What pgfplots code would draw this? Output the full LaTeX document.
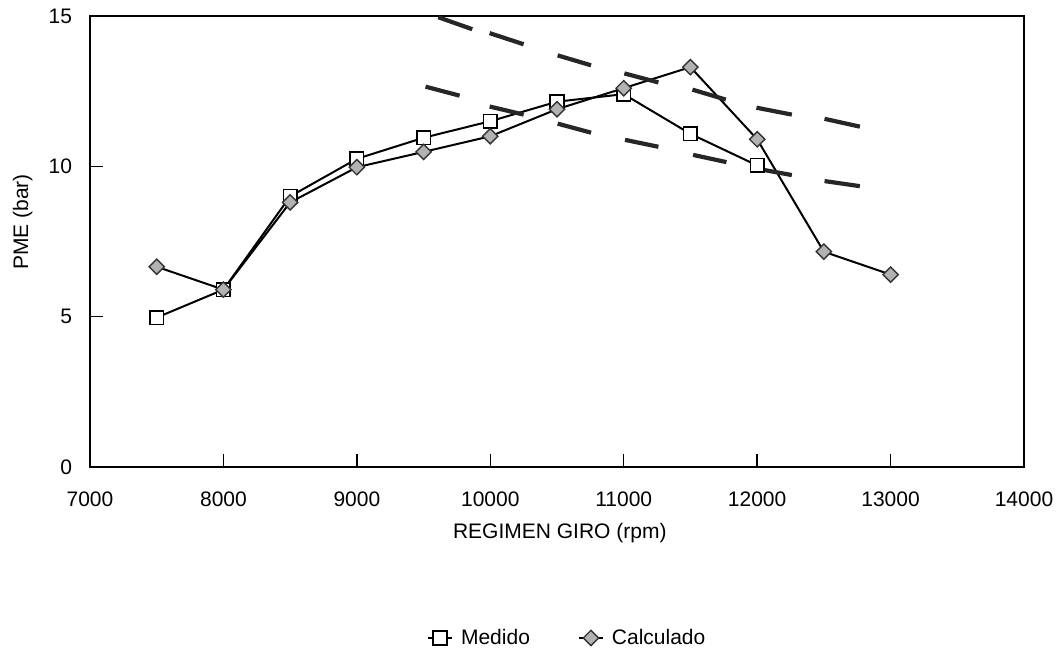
\documentclass[border=0pt]{standalone}
\usepackage{pgfplots}
\pgfplotsset{compat=1.18}
\usepackage{fontspec}
\setmainfont{Liberation Sans}
\begin{document}
\begin{tikzpicture}[x=1pt,y=1pt]
\begin{axis}[
  scale only axis,
  width=467pt, height=225.5pt,
  xmin=7000, xmax=14000, ymin=0, ymax=15,
  xtick={7000,8000,...,14000},
  ytick={0,5,10,15},
  scaled x ticks=false,
  tick pos=left,
  tick align=inside,
  major tick length=6.5pt,
  tick style={black, line width=0.7pt},
  axis line style={line width=0.9pt},
  /pgf/number format/assume math mode=true,
  /pgf/number format/1000 sep={},
  ticklabel style={font=\fontsize{10.5}{12}\selectfont},
  xticklabel style={yshift=-8.7pt},
  yticklabel style={xshift=-5.5pt},
  label style={font=\fontsize{10.5}{12}\selectfont},
  xlabel={REGIMEN GIRO (rpm)},
  ylabel={PME (bar)},
  xlabel style={at={(axis description cs:0.503,-0.146)}, anchor=center},
  ylabel style={at={(axis description cs:-0.072,0.543)}, anchor=center},
  clip=true,
  unbounded coords=jump,
  legend columns=2,
  legend style={draw=none, fill=none, font=\fontsize{10.5}{12}\selectfont,
    at={(0.512,-0.379)}, anchor=center,
    /tikz/every odd column/.append style={column sep=2pt},
    /tikz/every even column/.append style={column sep=22pt}},
  legend image code/.code={
    \draw[#1, mark repeat=2, mark phase=2] plot coordinates {(0pt,0pt) (6pt,0pt) (12pt,0pt)};
  },
]
\addplot[black, line width=1pt, mark=square*, mark size=3.4pt,
  mark options={fill=white, draw=black, line width=0.8pt}]
  coordinates {(7500,4.97) (8000,5.9) (8500,9.0) (9000,10.25) (9500,10.95)
    (10000,11.5) (10500,12.15) (11000,12.4) (11500,11.08) (12000,10.03)};
\addlegendentry{Medido}
\addplot[black, line width=1pt, mark=square*, mark size=2.7pt,
  mark options={rotate=45, fill=gray!60, draw=black!80, line width=0.7pt}]
  coordinates {(7500,6.66) (8000,5.9) (8500,8.8) (9000,9.97) (9500,10.48)
    (10000,11.0) (10500,11.9) (11000,12.6) (11500,13.3) (12000,10.9)
    (12500,7.16) (13000,6.4)};
\addlegendentry{Calculado}
% smudged (illegible) data labels from the scan
\addplot[black!85, line width=2.1pt, forget plot] coordinates {
 (9610,14.96) (9865,14.56)
 (nan,nan) (9995,14.43) (10250,14.06)
 (nan,nan) (10505,13.69) (10755,13.36)
 (nan,nan) (9515,12.65) (9770,12.35)
 (nan,nan) (9995,11.99) (10250,11.72)
 (nan,nan) (10505,11.42) (10755,11.12)
 (nan,nan) (11005,13.09) (11260,12.79)
 (nan,nan) (11010,10.88) (11260,10.65)
 (nan,nan) (11515,12.55) (11765,12.22)
 (nan,nan) (11520,10.38) (11770,10.14)
 (nan,nan) (11995,11.95) (12260,11.72)
 (nan,nan) (11975,9.94) (12260,9.71)
 (nan,nan) (12505,11.58) (12770,11.32)
 (nan,nan) (12505,9.51) (12770,9.34)
};
\end{axis}
\pgfresetboundingbox
\path ([xshift=-45pt, yshift=-95pt]current axis.south west) rectangle ([xshift=20pt, yshift=8pt]current axis.north east);
\end{tikzpicture}
\end{document}
